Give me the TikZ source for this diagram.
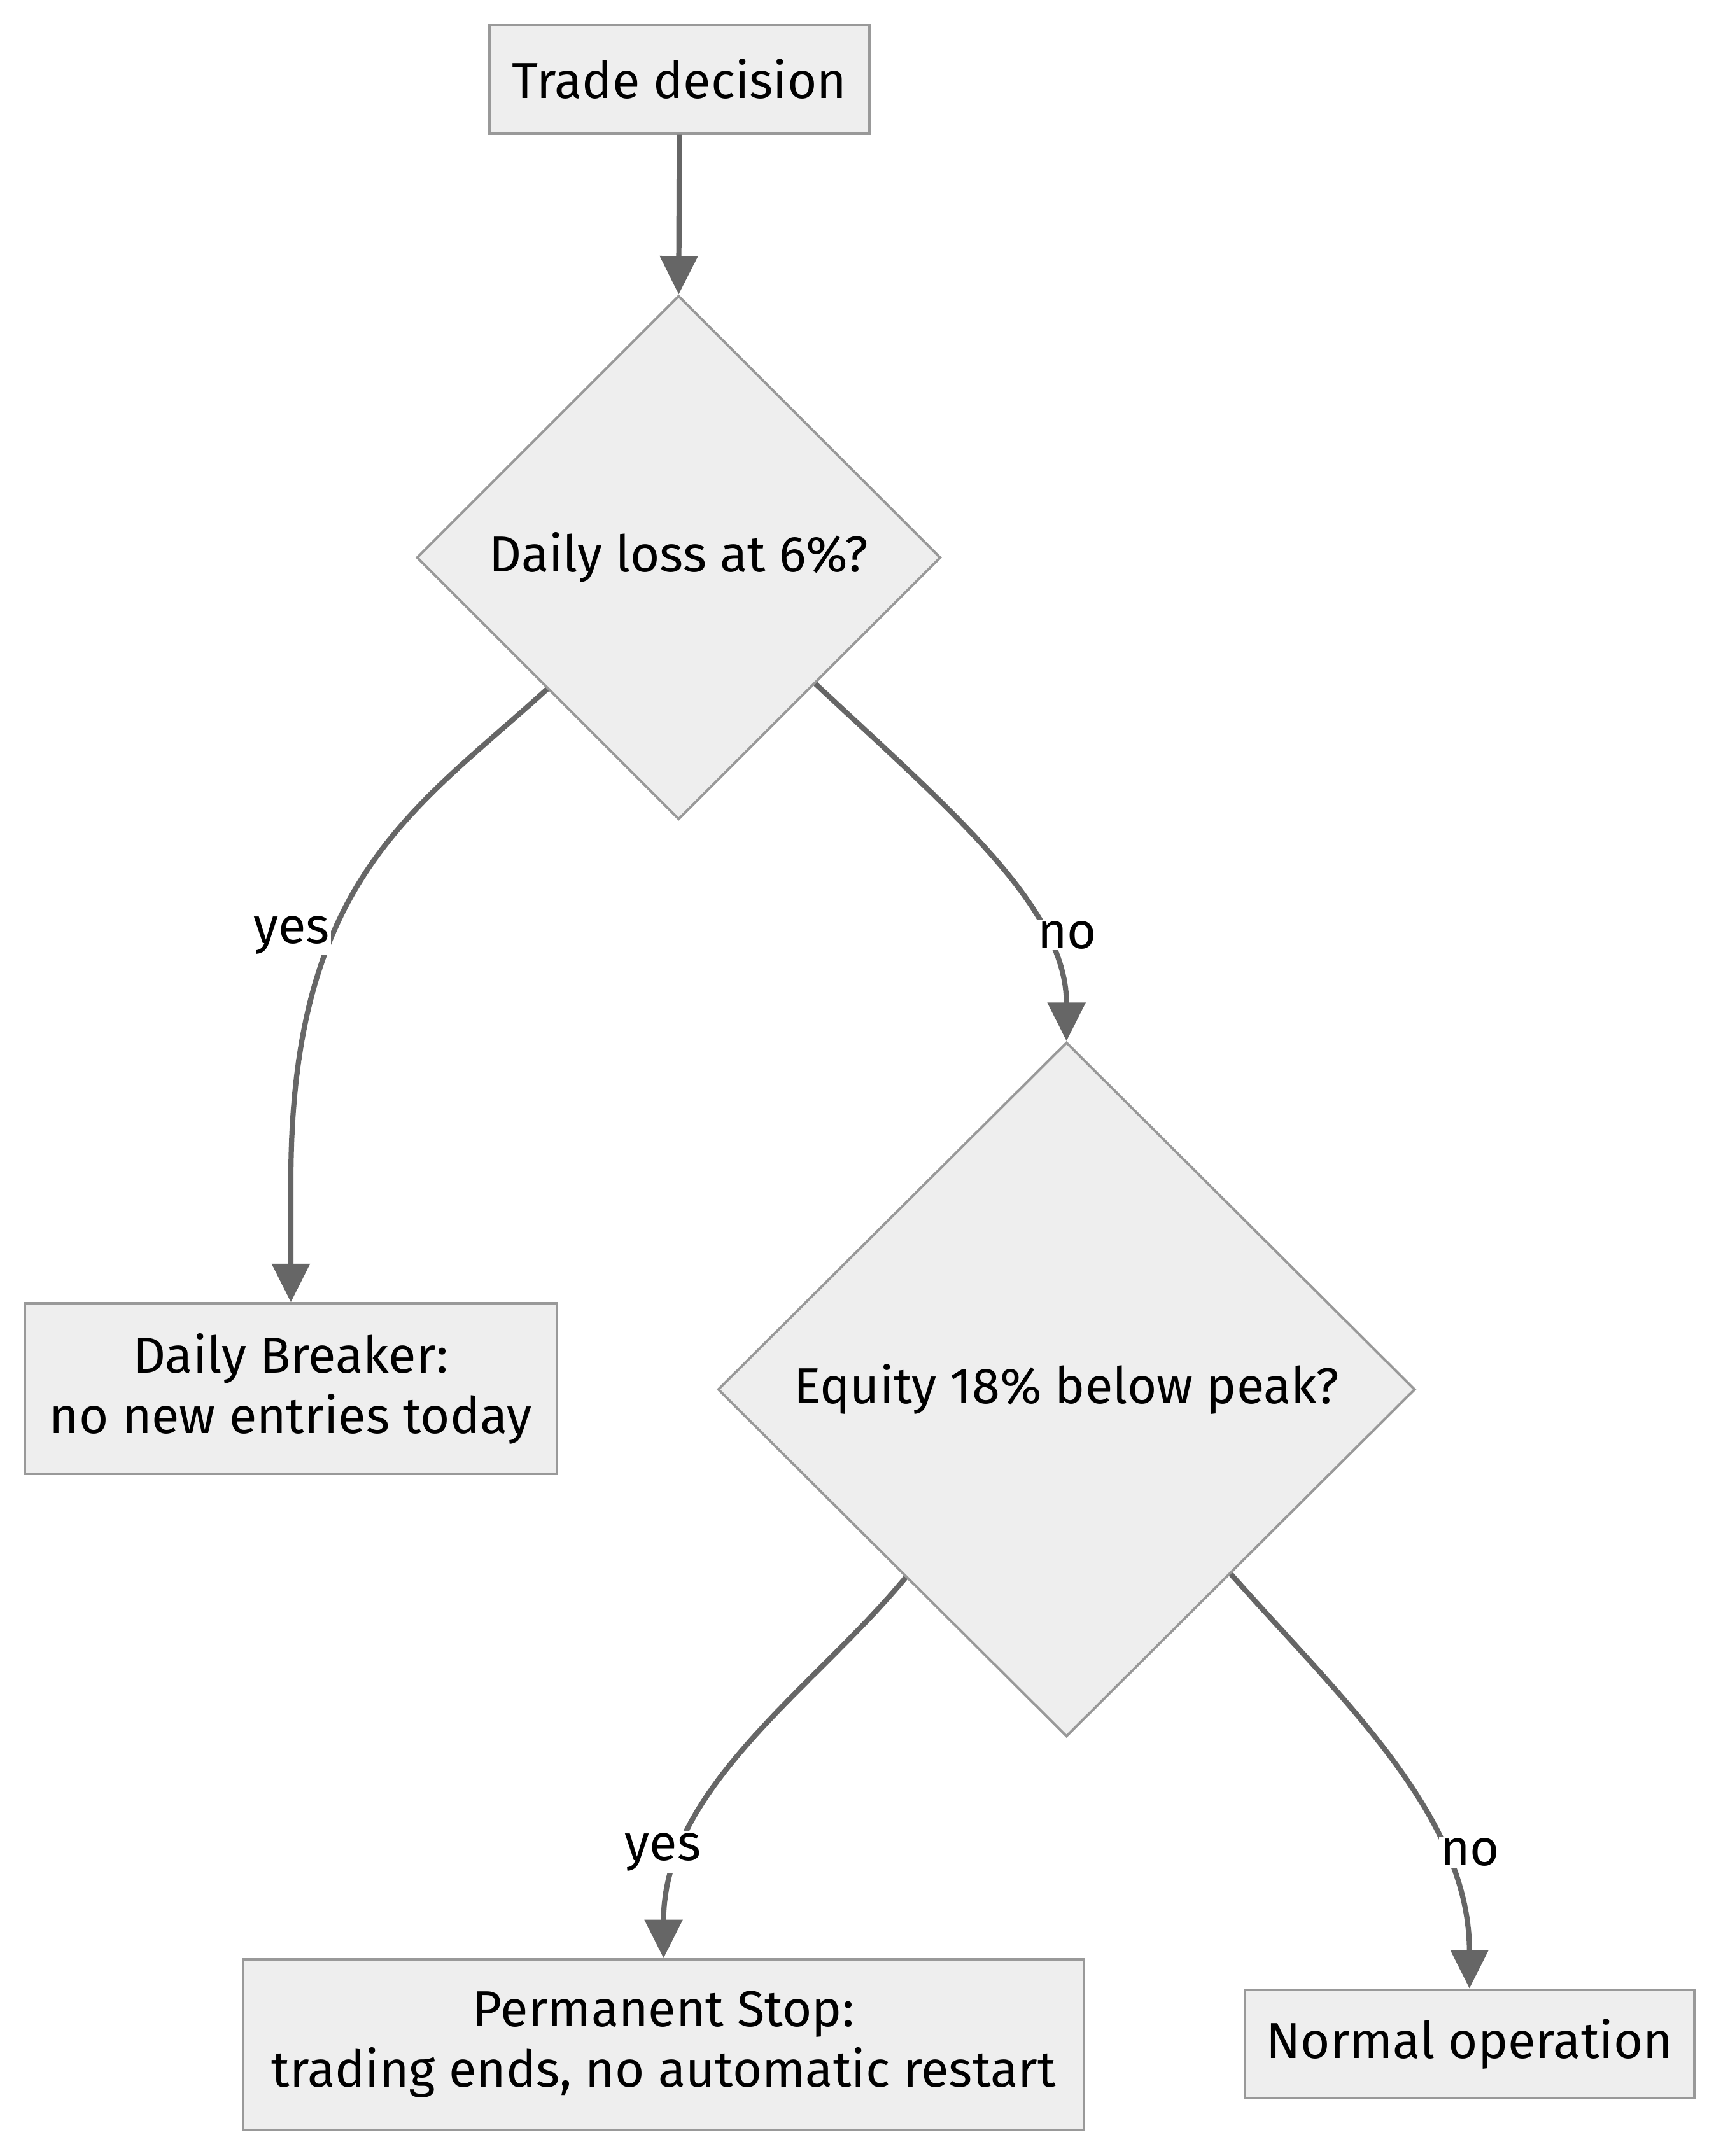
\documentclass[tikz,border=0pt]{standalone}
\usepackage{fontspec}
\setmainfont{Fira Sans}
\usetikzlibrary{shapes.geometric,arrows.meta,calc}
\definecolor{nodefill}{HTML}{EEEEEE}
\definecolor{nodeline}{HTML}{999999}
\definecolor{edgeline}{HTML}{666666}
\newcommand\diagfont{\fontsize{36.8}{44}\selectfont}
\begin{document}
\begin{tikzpicture}[x=1pt,y=-1pt,
  box/.style={draw=nodeline, fill=nodefill, line width=1.8pt, inner sep=0pt, align=center, font=\diagfont},
  dec/.style={diamond, draw=nodeline, fill=nodefill, line width=1.8pt, inner sep=0pt, aspect=1, font=\diagfont},
  edge/.style={draw=edgeline, line width=3.8pt, -{Triangle[length=28pt,width=27pt]}},
  lbl/.style={fill=white, inner sep=1pt, font=\diagfont}]
\useasboundingbox[fill=white] (0,0) rectangle (1251,1568);
\node[box, minimum width=276, minimum height=79] (A) at (494,57.5) {Trade decision};
\node[dec, minimum width=381, minimum height=381] (B) at (493.5,405.5) {Daily loss at 6\%?};
\node[box, minimum width=387, minimum height=124] (C) at (211.5,1010) {Daily Breaker:\\no new entries today};
\node[dec, minimum width=507, minimum height=505] (D) at (775.5,1010.5) {Equity 18\% below peak?};
\node[box, minimum width=611, minimum height=124] (E) at (482.5,1487) {Permanent Stop:\\trading ends, no automatic restart};
\node[box, minimum width=327, minimum height=79] (F) at (1068.5,1486.5) {Normal operation};

\draw[edge] (A.south) -- (B.north);
\draw[edge] (B.south west) .. controls (300,590) and (211.5,640) .. ($(C.north)+(0,-88)$) -- (C.north);
\draw[edge] ($(B.south)!0.52!(B.east)$) .. controls (692,590) and (775.5,660) .. (D.north);
\draw[edge] ($(D.south)!0.46!(D.west)$) .. controls (592,1228) and (482.5,1300) .. (E.north);
\draw[edge] ($(D.south)!0.47!(D.east)$) .. controls (975,1235) and (1068.5,1320) .. (F.north);

\node[lbl] (ly1) at (212,680) {yes};
\node[lbl] (ln1) at (776,680) {no};
\node[lbl] (ly2) at (482,1347) {yes};
\node[lbl] (ln2) at (1069,1347) {no};
\end{tikzpicture}
\end{document}
